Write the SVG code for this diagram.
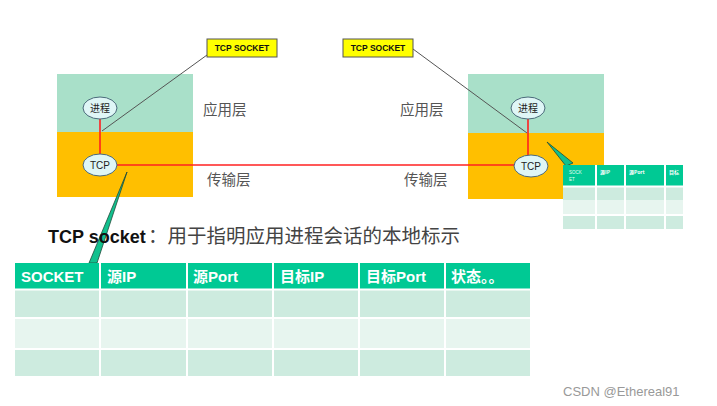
<svg xmlns="http://www.w3.org/2000/svg" width="717" height="406" viewBox="0 0 717 406">
<style>
.app{fill:#a9e0c9}
.tr{fill:#ffbf00}
.ell{fill:#dff6f6;stroke:#4a6a7a;stroke-width:1}
.et{font-family:"Liberation Sans","Noto Sans CJK SC",sans-serif;font-size:10px;fill:#222;text-anchor:middle}
.lay{font-family:"Noto Sans CJK SC",sans-serif;font-size:14.5px;fill:#555}
.lbl{fill:#ffff00;stroke:#555;stroke-width:1}
.lt{font-family:"Liberation Sans",sans-serif;font-size:8.5px;font-weight:bold;fill:#111;text-anchor:middle}
.red{stroke:#ff2020;stroke-width:1.6;fill:none}
.gray{stroke:#555;stroke-width:1;fill:none}
.ptr{fill:#12c08e;stroke:#1f4a3a;stroke-width:0.8}
.hd{fill:#00c994}
.r1{fill:#cdebdf}
.r2{fill:#e7f5ef}
.ht{font-family:"Liberation Sans","Noto Sans CJK SC",sans-serif;font-size:15px;font-weight:bold;fill:#fff}
.grid{stroke:#fff;stroke-width:2}
</style>
<rect width="717" height="406" fill="#fff"/>
<g id="left-host">
<rect class="app" x="57" y="74" width="136" height="58"/>
<rect class="tr" x="57" y="132" width="136" height="65"/>
<text class="lay" x="203" y="115">应用层</text>
<text class="lay" x="207" y="185">传输层</text>
</g>
<g id="right-host">
<rect class="app" x="468" y="74" width="136" height="59"/>
<rect class="tr" x="468" y="133" width="136" height="66"/>
<text class="lay" x="400" y="115">应用层</text>
<text class="lay" x="404" y="185">传输层</text>
</g>
<g id="connectors">
<line class="red" x1="100" y1="119" x2="100" y2="154"/>
<line class="red" x1="117" y1="165" x2="515" y2="165"/>
<line class="red" x1="528" y1="119" x2="528" y2="155"/>
<line class="gray" x1="207" y1="55" x2="102" y2="131"/>
<line class="gray" x1="413" y1="49" x2="527" y2="133"/>
<polygon class="ptr" points="127,172 89,263 97,263"/>
<polygon class="ptr" points="547,142 566,166 573,163"/>
</g>
<g id="left-proc"><ellipse class="ell" cx="100" cy="108" rx="17" ry="11"/><text class="et" x="100" y="112">进程</text></g>
<g id="left-tcp"><ellipse class="ell" cx="100" cy="165" rx="17" ry="11"/><text class="et" x="100" y="169">TCP</text></g>
<g id="right-proc"><ellipse class="ell" cx="528" cy="108" rx="17" ry="11"/><text class="et" x="528" y="112">进程</text></g>
<g id="right-tcp"><ellipse class="ell" cx="531" cy="166" rx="17" ry="11"/><text class="et" x="531" y="170">TCP</text></g>
<g id="left-label"><rect class="lbl" x="207" y="39" width="70" height="18"/><text class="lt" x="242" y="51">TCP SOCKET</text></g>
<g id="right-label"><rect class="lbl" x="343" y="39" width="70" height="18"/><text class="lt" x="378" y="51">TCP SOCKET</text></g>
<g id="small-table">
<rect class="hd" x="563" y="165" width="120" height="21"/>
<rect class="r1" x="563" y="187" width="120" height="13"/>
<rect class="r2" x="563" y="200" width="120" height="15"/>
<rect class="r1" x="563" y="215" width="120" height="14"/>
<g class="grid"><line x1="596" y1="165" x2="596" y2="229"/><line x1="625" y1="165" x2="625" y2="229"/><line x1="665" y1="165" x2="665" y2="229"/><line x1="563" y1="186.5" x2="683" y2="186.5"/><line x1="563" y1="215" x2="683" y2="215"/></g>
<text x="569" y="174" font-family="Liberation Sans,sans-serif" font-size="4.5" fill="#e8fff6">SOCK</text>
<text x="569" y="181" font-family="Liberation Sans,sans-serif" font-size="4.5" fill="#e8fff6">ET</text>
<text x="600" y="174" font-family="Noto Sans CJK SC,sans-serif" font-size="5" font-weight="bold" fill="#fff">源IP</text>
<text x="629" y="174" font-family="Noto Sans CJK SC,sans-serif" font-size="5" font-weight="bold" fill="#fff">源Port</text>
<text x="669" y="174" font-family="Noto Sans CJK SC,sans-serif" font-size="5" font-weight="bold" fill="#fff">目标</text>
</g>
<g id="caption">
<text x="48" y="243" font-family="Liberation Sans,Noto Sans CJK SC,sans-serif" font-size="18" font-weight="bold" fill="#111">TCP socket</text>
<text x="148" y="243" font-family="Noto Sans CJK SC,sans-serif" font-size="19.5" fill="#444">：用于指明应用进程会话的本地标示</text>
</g>
<g id="big-table">
<rect class="hd" x="15" y="263" width="515" height="26"/>
<rect class="r1" x="15" y="290" width="515" height="28"/>
<rect class="r2" x="15" y="318" width="515" height="31"/>
<rect class="r1" x="15" y="349" width="515" height="27"/>
<g class="grid">
<line x1="100" y1="263" x2="100" y2="376"/><line x1="187" y1="263" x2="187" y2="376"/><line x1="273" y1="263" x2="273" y2="376"/><line x1="359" y1="263" x2="359" y2="376"/><line x1="445" y1="263" x2="445" y2="376"/>
<line x1="15" y1="289.5" x2="530" y2="289.5"/><line x1="15" y1="318" x2="530" y2="318"/><line x1="15" y1="349" x2="530" y2="349"/>
</g>
<text class="ht" x="21" y="282">SOCKET</text>
<text class="ht" x="107" y="282">源IP</text>
<text class="ht" x="193" y="282">源Port</text>
<text class="ht" x="280" y="282">目标IP</text>
<text class="ht" x="366" y="282">目标Port</text>
<text class="ht" x="451" y="282">状态。。</text>
</g>
<text x="563" y="396" font-family="Liberation Sans,sans-serif" font-size="13" fill="#999">CSDN @Ethereal91</text>
</svg>
